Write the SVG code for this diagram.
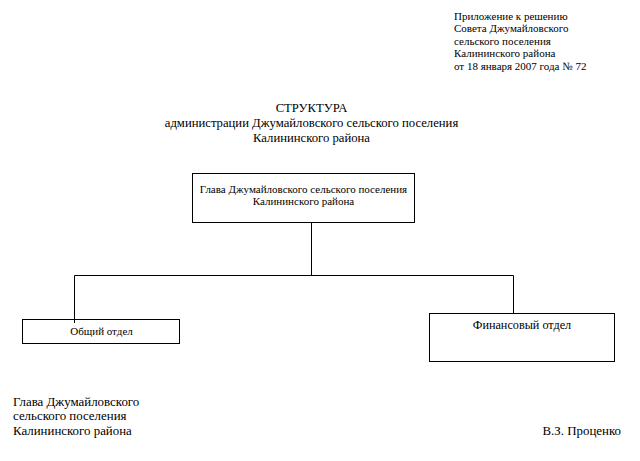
<svg xmlns="http://www.w3.org/2000/svg" width="640" height="461" viewBox="0 0 640 461">
<style>
text{font-family:"Liberation Serif","Times New Roman",serif;fill:#000}
.s11{font-size:11px}
.s12{font-size:12.2px}
.s13{font-size:12.7px}
.sg{font-size:12.9px}
.box{fill:#fff;stroke:#000;stroke-width:1}
.conn{fill:none;stroke:#000;stroke-width:1}
</style>
<rect width="640" height="461" fill="#fff"/>
<g id="header">
<text class="s11" x="454" y="19.5">Приложение к решению</text>
<text class="s11" x="454" y="32">Совета Джумайловского</text>
<text class="s11" x="454" y="44.5">сельского поселения</text>
<text class="s11" x="454" y="57">Калининского района</text>
<text class="s11" x="454" y="69.5">от 18 января 2007 года № 72</text>
</g>
<g id="title" text-anchor="middle">
<text class="s13" x="311.5" y="112">СТРУКТУРА</text>
<text class="s13" x="311.5" y="127">администрации Джумайловского сельского поселения</text>
<text class="s13" x="311.5" y="142">Калининского района</text>
</g>
<g id="connectors">
<path class="conn" d="M311.5 223 V275.5 M74.5 275.5 H513.5 M74.5 275.5 V322 M513.5 275.5 V313.5"/>
</g>
<g id="head">
<rect class="box" x="192.5" y="173.5" width="222" height="49"/>
<text class="s11" x="303.5" y="193" text-anchor="middle">Глава Джумайловского сельского поселения</text>
<text class="s11" x="303.5" y="205" text-anchor="middle">Калининского района</text>
</g>
<g id="general">
<rect class="box" x="22.5" y="319.5" width="157" height="24"/>
<path class="conn" d="M74.5 319.5 V323"/>
<text class="s11" x="101.5" y="335" text-anchor="middle">Общий отдел</text>
</g>
<g id="finance">
<rect class="box" x="429.5" y="313.5" width="185" height="48"/>
<text class="s12" x="522" y="328.5" text-anchor="middle">Финансовый отдел</text>
</g>
<g id="signature">
<text class="sg" x="13" y="405.5">Глава Джумайловского</text>
<text class="sg" x="13" y="420">сельского поселения</text>
<text class="sg" x="13" y="434.5">Калининского района</text>
<text class="sg" x="621" y="434.5" text-anchor="end">В.З. Проценко</text>
</g>
</svg>
